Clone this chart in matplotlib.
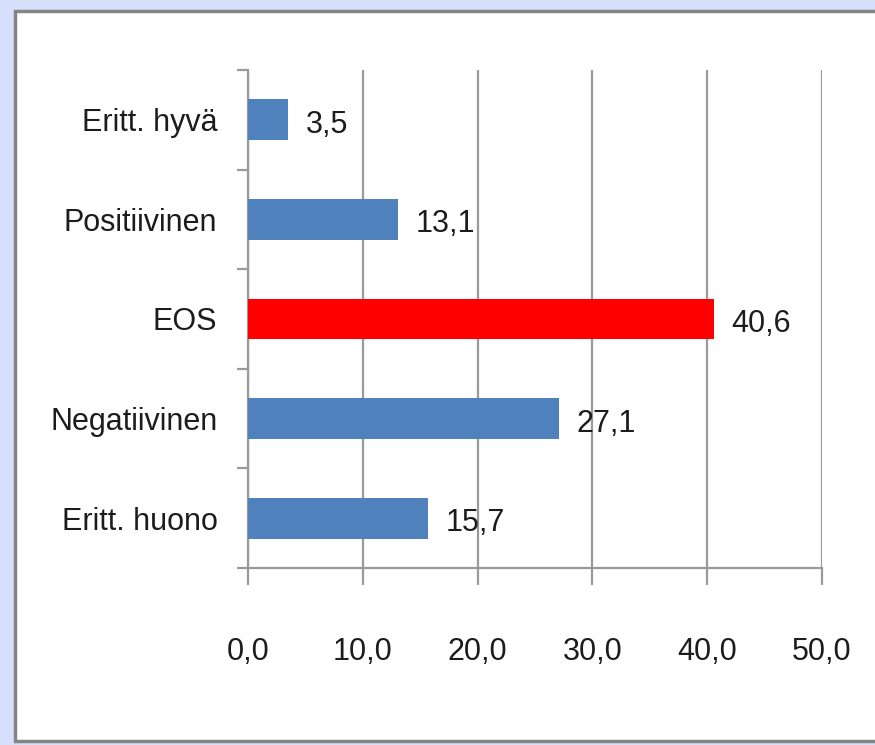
import matplotlib
matplotlib.use('Agg')
import matplotlib.pyplot as plt
from matplotlib.patches import Rectangle
import numpy as np

# Data
categories = ['Eritt. hyvä', 'Positiivinen', 'EOS', 'Negatiivinen', 'Eritt. huono']
values = [3.5, 13.1, 40.6, 27.1, 15.7]
colors = ['#4f81bd', '#4f81bd', '#ff0000', '#4f81bd', '#4f81bd']
xticks = [0, 10, 20, 30, 40, 50]
xticklabels = ['0,0', '10,0', '20,0', '30,0', '40,0', '50,0']

plt.rcParams['font.family'] = ['Liberation Sans', 'DejaVu Sans']
txt = '#1c1c1c'
fs = 22

fig = plt.figure(figsize=(8.75, 7.45), dpi=100, facecolor='#d6e0fa')
# white panel with grey frame
fig.patches.append(Rectangle((15/875, 4/745), 1.0, 1 - 15/745, transform=fig.transFigure,
                             facecolor='white', edgecolor='#858585', linewidth=2.5, zorder=-10))

ax = fig.add_axes([248/875, 1 - 568/745, 574/875, 498/745])
ax.set_facecolor('none')
y = np.arange(len(categories))
ax.barh(y, values, height=0.41, color=colors, zorder=3)
ax.set_xlim(0, 50)
ax.set_ylim(len(categories) - 0.5, -0.5)

grey = '#9a9a9a'
ax.set_xticks(xticks)
ax.set_xticklabels(xticklabels, fontsize=fs, color=txt)
ax.xaxis.grid(True, color=grey, linewidth=1.6, zorder=0)
ax.tick_params(axis='x', length=12, width=1.6, color=grey, pad=38)

ax.set_yticks(y)
ax.set_yticklabels(categories, fontsize=fs, color=txt)
ax.set_yticks(np.arange(len(categories) + 1) - 0.5, minor=True)
ax.tick_params(axis='y', which='major', length=0, pad=22)
ax.tick_params(axis='y', which='minor', length=8, width=1.6, color=grey)

for s in ['top', 'right']:
    ax.spines[s].set_visible(False)
ax.spines['left'].set_color(grey)
ax.spines['bottom'].set_color(grey)
ax.spines['left'].set_linewidth(1.6)
ax.spines['bottom'].set_linewidth(1.6)

for yi, v in zip(y, values):
    ax.text(v + 1.5, yi + 0.05, f'{v:.1f}'.replace('.', ','), va='center', ha='left',
            fontsize=fs, color=txt)

fig.savefig('out.png', dpi=100, facecolor=fig.get_facecolor())
